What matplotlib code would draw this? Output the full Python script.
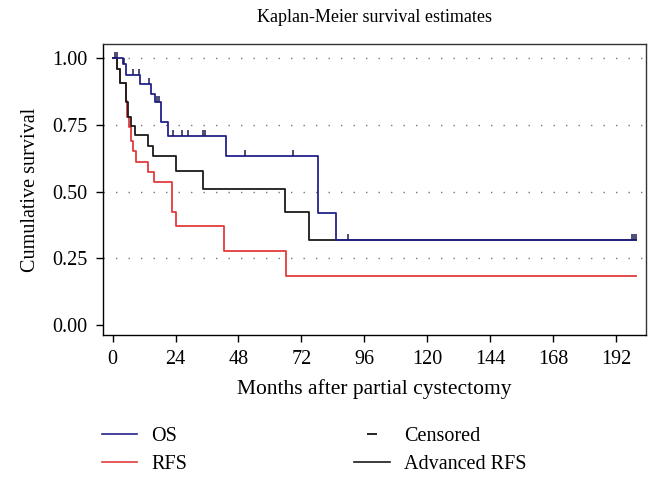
import numpy as np
import matplotlib
matplotlib.use("Agg")
import matplotlib.pyplot as plt
from matplotlib.path import Path
from matplotlib.lines import Line2D

plt.rcParams['font.family'] = ['Liberation Serif', 'DejaVu Serif']

# ---- data ----
os_time = [0, 3.8, 5.1, 10.4, 14.5, 16.0, 18.3, 21.0, 43.2, 78.5, 85.2, 199.8]
os_surv = [1.0, 0.977, 0.936, 0.903, 0.866, 0.835, 0.761, 0.709, 0.633, 0.420, 0.318, 0.318]
os_cens = [0.9, 1.8, 4.5, 7.9, 10.0, 14.0, 17.0, 17.8, 22.9, 26.6, 28.9, 34.6, 35.2,
           50.5, 68.7, 89.9, 198.3, 199.0, 199.8]

rfs_time = [0, 1.8, 2.8, 4.9, 5.4, 6.3, 7.0, 7.6, 8.8, 13.6, 15.9, 22.5, 24.1, 42.5, 66.0, 199.5]
rfs_surv = [1.0, 0.958, 0.905, 0.840, 0.780, 0.740, 0.690, 0.650, 0.612, 0.574, 0.535,
            0.424, 0.371, 0.278, 0.185, 0.185]

adv_time = [0, 1.8, 2.8, 4.9, 6.0, 6.9, 8.5, 13.6, 15.5, 24.1, 34.3, 65.9, 75.0, 199.5]
adv_surv = [1.0, 0.958, 0.905, 0.836, 0.778, 0.745, 0.712, 0.670, 0.634, 0.578, 0.510,
            0.424, 0.318, 0.318]

x_ticks = [0, 24, 48, 72, 96, 120, 144, 168, 192]
y_ticks = [0.00, 0.25, 0.50, 0.75, 1.00]
y_ticklabels = ["0.00", "0.25", "0.50", "0.75", "1.00"]
grid_levels = [0.25, 0.50, 0.75, 1.00]

c_os = '#24228a'
c_rfs = '#e23b3b'
c_adv = '#1a1a1a'

fig = plt.figure(figsize=(6.61, 4.82), dpi=100)
ax = fig.add_axes([103/661, 1 - 335/482, (646 - 103)/661, (335 - 44)/482])

for g in grid_levels:
    ax.axhline(g, color='#777777', lw=1.0, linestyle=(0, (1, 8)), zorder=1)

ax.step(rfs_time, rfs_surv, where='post', color=c_rfs, lw=1.3, zorder=3)
ax.step(adv_time, adv_surv, where='post', color=c_adv, lw=1.3, zorder=4)
ax.step(os_time, os_surv, where='post', color=c_os, lw=1.3, zorder=5)

# censor ticks on OS curve: value of the step function at censor time
idx = np.searchsorted(np.array(os_time), np.array(os_cens), side='right') - 1
cens_y = np.array(os_surv)[idx]
tick_marker = Path([(0, 0), (0, 1)], [Path.MOVETO, Path.LINETO])
ax.plot(os_cens, cens_y, linestyle='none', marker=tick_marker, markersize=9,
        markeredgecolor='#1b1b55', markeredgewidth=1.1, zorder=6)

ax.set_xlim(-3.7, 203.5)
ax.set_ylim(-0.037, 1.052)
ax.set_xticks(x_ticks)
ax.set_xticklabels([str(t) for t in x_ticks], fontsize=14.5)
ax.set_yticks(y_ticks)
ax.set_yticklabels(y_ticklabels, fontsize=14.5)
ax.tick_params(direction='out', length=5, width=1, pad=6, colors='black')
for s in ax.spines.values():
    s.set_linewidth(1.0)
    s.set_color('#333333')
ax.spines['left'].set_color('black')
ax.spines['bottom'].set_color('black')

ax.set_xlabel("Months after partial cystectomy", fontsize=15.5, labelpad=7)
ax.set_ylabel("Cumulative survival", fontsize=14.5, labelpad=9)
fig.text((103 + 646) / 2 / 661, 1 - 17 / 482, "Kaplan-Meier survival estimates",
         ha='center', va='center', fontsize=13)

handles = [Line2D([], [], color=c_os, lw=1.2),
           Line2D([], [], color=c_rfs, lw=1.2),
           Line2D([], [], color='black', lw=0, marker='_', markersize=7, markeredgewidth=1.2),
           Line2D([], [], color=c_adv, lw=1.2)]
labels = ["OS", "RFS", "Censored", "Advanced RFS"]
fig.legend(handles, labels, loc='upper left', bbox_to_anchor=(98/661, 1 - 423/482),
           ncol=2, frameon=False, fontsize=14.5, handlelength=1.75, handletextpad=0.7,
           columnspacing=8.3, labelspacing=0.45, borderaxespad=0, borderpad=0.2)

fig.savefig("out.png", dpi=100)
